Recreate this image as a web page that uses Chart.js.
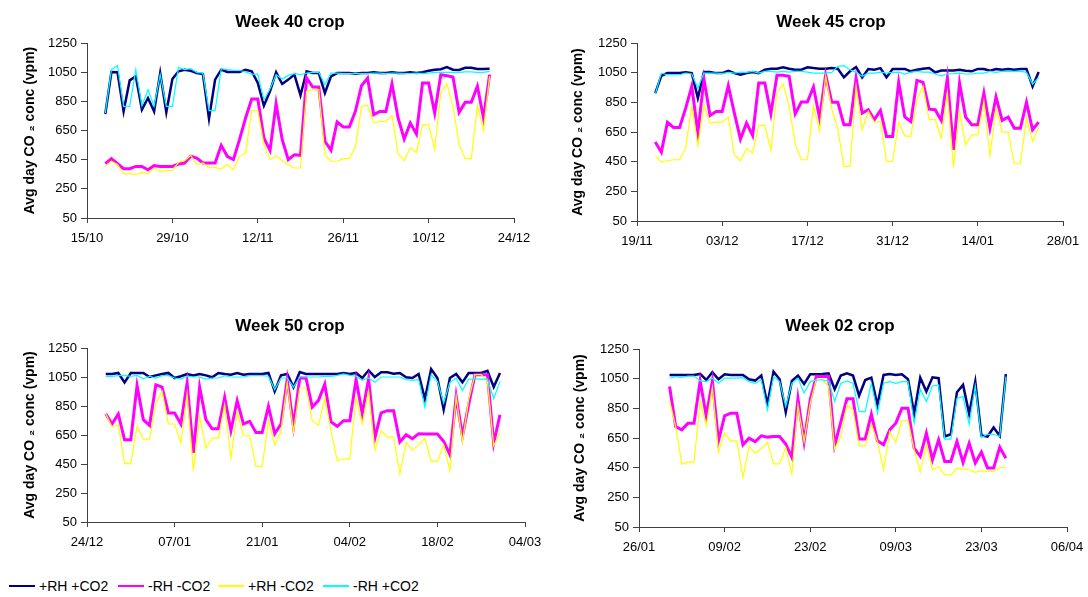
<!DOCTYPE html>
<html>
<head>
<meta charset="utf-8">
<title>CO2 by crop week</title>
<script src="https://cdn.jsdelivr.net/npm/chart.js@4.4.0/dist/chart.umd.min.js"></script>
<style>
  body { margin: 0; width: 1088px; height: 597px; overflow: hidden; background: #fff; position: relative;
         font-family: Arial, "Liberation Sans", sans-serif; }
  canvas { position: absolute; }
  .legend-item { position: absolute; top: 577px; height: 18px; display: flex; align-items: center; font-size: 14px; color: #000; white-space: nowrap; }
  .legend-swatch { width: 26px; margin-right: 4px; }
</style>
</head>
<body>
<canvas id="week40" width="580" height="262" style="left:0px;top:0px"></canvas>
<canvas id="week45" width="562" height="262" style="left:550px;top:0px"></canvas>
<canvas id="week50" width="580" height="262" style="left:0px;top:305px"></canvas>
<canvas id="week02" width="576" height="262" style="left:552px;top:305px"></canvas>
<div id="legend"></div>

<script>
// Series shared by all panels
const seriesNames = ['+RH +CO2', '-RH -CO2', '+RH -CO2', '-RH +CO2'];
const seriesColors = ['#000080', '#ff00ff', '#ffff00', '#00ffff'];
const seriesWidths = [2.5, 3, 1.2, 1.2];

const yTitle = 'Avg day CO \u2082 conc (vpm)';

// Week 40 crop - days counted from 15/10, data starts at day 3
const week40Ticks = ['15/10', '29/10', '12/11', '26/11', '10/12', '24/12'];
const week40Start = 3;
const week40PlusRhPlusCo2 = [
  763, 1051, 1049, 781, 994, 1021, 793, 873,
  781, 1044, 775, 1003, 1056, 1067, 1060, 1044,
  1037, 731, 999, 1067, 1051, 1051, 1051, 1067,
  1056, 976, 820, 919, 1049, 969, 999, 1033,
  891, 1056, 1044, 1044, 907, 1021, 1044, 1044,
  1044, 1040, 1044, 1044, 1049, 1044, 1044, 1049,
  1044, 1044, 1049, 1044, 1049, 1060, 1067, 1070,
  1085, 1067, 1065, 1080, 1080, 1072, 1072, 1074
];
const week40MinusRhMinusCo2 = [
  423, 457, 423, 388, 388, 404, 404, 381,
  409, 404, 404, 404, 420, 427, 473, 461,
  427, 427, 427, 548, 473, 450, 587, 736,
  866, 866, 599, 514, 834, 587, 450, 484,
  480, 1010, 948, 948, 576, 514, 708, 674,
  674, 781, 957, 1010, 759, 781, 781, 969,
  736, 592, 701, 626, 976, 976, 770, 1033,
  1026, 1017, 775, 843, 843, 953, 736, 1033
];
const week40PlusRhMinusCo2 = [
  404, 439, 416, 354, 354, 347, 363, 354,
  393, 370, 377, 377, 432, 443, 480, 416,
  427, 397, 397, 386, 416, 381, 473, 496,
  786, 786, 553, 450, 477, 443, 416, 393,
  393, 919, 930, 930, 484, 439, 439, 457,
  457, 537, 816, 823, 701, 713, 713, 752,
  491, 443, 530, 500, 690, 690, 519, 912,
  969, 816, 553, 457, 457, 820, 651, 1021
];
const week40MinusRhPlusCo2 = [
  770, 1067, 1095, 816, 816, 1067, 820, 930,
  816, 1033, 816, 816, 1083, 1067, 1074, 1049,
  1044, 786, 786, 1074, 1067, 1063, 1063, 1051,
  1037, 1037, 861, 935, 1033, 1003, 1028, 1040,
  1033, 1044, 1049, 1049, 965, 1044, 1044, 1040,
  1040, 1040, 1040, 1040, 1044, 1044, 1040, 1044,
  1044, 1040, 1040, 1044, 1040, 1044, 1049, 1049,
  1049, 1049, 1049, 1052, 1052, 1049, 1049, 1056
];

// Week 45 crop - days counted from 19/11
const week45Ticks = ['19/11', '03/12', '17/12', '31/12', '14/01', '28/01'];
const week45Start = 3;
const week45PlusRhPlusCo2 = [
  912, 1029, 1047, 1047, 1047, 1052, 1047, 879,
  1054, 1054, 1047, 1047, 1063, 1047, 1036, 1047,
  1054, 1047, 1070, 1077, 1077, 1086, 1077, 1070,
  1070, 1086, 1081, 1077, 1077, 1081, 1077, 1018,
  1059, 1088, 1018, 1075, 1070, 1081, 1018, 1075,
  1075, 1075, 1059, 1070, 1077, 1081, 1052, 1065,
  1065, 1065, 1070, 1063, 1059, 1075, 1075, 1063,
  1075, 1070, 1075, 1070, 1075, 1075, 957, 1054
];
const week45MinusRhMinusCo2 = [
  582, 514, 715, 681, 681, 811, 958, 643,
  1007, 762, 789, 789, 962, 777, 602, 710,
  627, 980, 980, 773, 1032, 1032, 1025, 773,
  852, 852, 953, 744, 1036, 850, 850, 699,
  699, 1014, 777, 800, 733, 795, 620, 620,
  985, 751, 721, 998, 985, 804, 800, 728,
  1014, 530, 980, 751, 699, 699, 913, 676,
  886, 728, 751, 676, 676, 850, 665, 717
];
const week45PlusRhMinusCo2 = [
  492, 447, 456, 463, 463, 541, 827, 557,
  834, 710, 717, 717, 751, 496, 456, 537,
  508, 694, 694, 526, 917, 973, 823, 568,
  463, 463, 827, 658, 1025, 807, 670, 418,
  418, 960, 665, 789, 715, 721, 451, 451,
  715, 624, 620, 868, 958, 733, 733, 609,
  913, 413, 789, 564, 631, 631, 856, 490,
  811, 649, 649, 436, 436, 744, 586, 681
];
const week45MinusRhPlusCo2 = [
  905, 1047, 1036, 1036, 1036, 1047, 1041, 946,
  1047, 1047, 1047, 1043, 1052, 1047, 1054, 1052,
  1059, 1047, 1059, 1059, 1054, 1059, 1054, 1059,
  1059, 1054, 1047, 1047, 1047, 1052, 1092, 1097,
  1070, 1052, 1025, 1047, 1047, 1054, 1047, 1052,
  1054, 1041, 1054, 1059, 1054, 1054, 1041, 1029,
  1041, 1043, 1047, 1041, 1041, 1047, 1047, 1059,
  1052, 1059, 1059, 1059, 1059, 1052, 973, 1018
];

// Week 50 crop - days counted from 24/12
const week50Ticks = ['24/12', '07/01', '21/01', '04/02', '18/02', '04/03'];
const week50Start = 3;
const week50PlusRhPlusCo2 = [
  1071, 1071, 1078, 1013, 1078, 1078, 1078, 1050,
  1061, 1071, 1078, 1043, 1055, 1071, 1061, 1071,
  1061, 1048, 1078, 1071, 1066, 1078, 1066, 1071,
  1071, 1071, 1078, 951, 1061, 1071, 980, 1084,
  1071, 1071, 1071, 1071, 1071, 1071, 1078, 1071,
  1078, 1043, 1096, 1050, 1082, 1082, 1073, 1078,
  1048, 1043, 1071, 898, 1105, 1043, 825, 1043,
  1071, 1013, 1078, 1078, 1078, 1093, 981, 1078
];
const week50MinusRhMinusCo2 = [
  797, 726, 795, 618, 618, 990, 756, 716,
  997, 981, 802, 802, 726, 1009, 526, 981,
  756, 693, 693, 910, 680, 887, 726, 744,
  668, 668, 848, 659, 726, 1032, 710, 1043,
  1043, 843, 889, 1000, 740, 710, 749, 749,
  1032, 797, 1036, 629, 802, 818, 818, 602,
  652, 624, 659, 657, 657, 657, 606, 514,
  917, 641, 860, 1066, 1066, 1066, 594, 790
];
const week50PlusRhMinusCo2 = [
  797, 705, 721, 452, 452, 710, 622, 622,
  871, 951, 726, 726, 594, 933, 404, 778,
  560, 629, 629, 859, 491, 813, 645, 645,
  434, 434, 749, 583, 675, 1009, 670, 974,
  974, 749, 716, 905, 675, 473, 486, 486,
  910, 726, 956, 548, 680, 636, 636, 381,
  599, 544, 583, 629, 468, 468, 583, 404,
  917, 602, 894, 1066, 1066, 1020, 576, 668
];
const week50MinusRhPlusCo2 = [
  1055, 1055, 1059, 1061, 1055, 1061, 1038, 1055,
  1043, 1059, 1059, 1043, 1036, 1055, 1050, 1050,
  1036, 1043, 1043, 1059, 1050, 1050, 1050, 1059,
  1059, 1059, 1055, 963, 1043, 1043, 980, 1050,
  1050, 1050, 1050, 1055, 1055, 1061, 1071, 1061,
  1055, 1027, 1043, 1013, 1050, 1050, 1050, 1050,
  1032, 1027, 1032, 841, 1066, 1020, 870, 1013,
  1043, 956, 1036, 1036, 1036, 1036, 900, 1020
];

// Week 02 crop - days counted from 26/01, data starts at day 5
const week02Ticks = ['26/01', '09/02', '23/02', '09/03', '23/03', '06/04'];
const week02Start = 5;
const week02PlusRhPlusCo2 = [
  1075, 1075, 1075, 1075, 1075, 1082, 1041, 1093,
  1046, 1080, 1075, 1075, 1075, 1046, 1037, 1071,
  878, 1097, 1046, 824, 1035, 1071, 1014, 1080,
  1080, 1082, 1086, 979, 1071, 1086, 1071, 935,
  1041, 1057, 873, 1075, 1082, 1075, 1080, 1046,
  813, 1057, 963, 1059, 1053, 660, 675, 958,
  1008, 813, 1030, 667, 660, 721, 664, 1080
];
const week02MinusRhMinusCo2 = [
  997, 727, 705, 750, 750, 1035, 799, 1035,
  631, 799, 817, 817, 604, 649, 626, 665,
  656, 660, 660, 609, 519, 914, 626, 907,
  1064, 1064, 1064, 600, 757, 914, 914, 644,
  644, 810, 631, 604, 705, 750, 851, 851,
  582, 526, 683, 503, 638, 492, 492, 626,
  485, 615, 481, 555, 447, 447, 588, 514
];
const week02PlusRhMinusCo2 = [
  900, 727, 474, 487, 487, 900, 732, 990,
  555, 683, 631, 631, 384, 593, 548, 577,
  622, 476, 476, 586, 407, 869, 626, 884,
  1046, 1046, 997, 575, 660, 873, 840, 597,
  597, 743, 626, 436, 694, 620, 768, 768,
  570, 420, 604, 436, 458, 402, 402, 447,
  440, 436, 418, 429, 425, 425, 451, 451
];
const week02MinusRhPlusCo2 = [
  1053, 1064, 1059, 1068, 1068, 1035, 1030, 1053,
  1019, 1053, 1053, 1053, 1057, 1030, 1019, 1041,
  840, 1064, 1030, 862, 1019, 1053, 952, 1030,
  1041, 1041, 1035, 896, 1019, 1035, 1019, 828,
  828, 1020, 817, 1019, 1030, 1019, 1030, 1030,
  750, 979, 896, 1001, 1008, 642, 642, 918,
  929, 743, 1001, 653, 675, 675, 660, 1064
];

Chart.defaults.font.family = 'Arial, "Liberation Sans", sans-serif';
Chart.defaults.color = '#000';

const axisColor = '#404040';

// Turn a daily series into {x, y} points
function toPoints(values, startDay) {
  return values.map((v, i) => ({ x: startDay + i, y: v }));
}

// Build one panel
function makePanel(id, title, ticks, startDay, series, box) {
  const ctx = document.getElementById(id).getContext('2d');
  const datasets = series.map((values, i) => ({
    label: seriesNames[i],
    data: toPoints(values, startDay),
    borderColor: seriesColors[i],
    backgroundColor: seriesColors[i],
    borderWidth: seriesWidths[i],
    pointRadius: 0,
    tension: 0,
    fill: false,
    order: series.length - i // later series on top, like the original
  }));

  return new Chart(ctx, {
    type: 'line',
    data: { datasets },
    options: {
      responsive: false,
      animation: false,
      devicePixelRatio: 1,
      layout: { padding: 0 },
      plugins: {
        legend: { display: false },
        tooltip: { enabled: false },
        title: {
          display: true,
          text: title,
          color: '#000',
          font: { size: 17, weight: 'bold' },
          padding: { top: box.titleTop, bottom: box.titleBottom }
        }
      },
      scales: {
        x: {
          type: 'linear',
          min: 0,
          max: (ticks.length - 1) * 14,
          grid: { display: true, drawOnChartArea: false, drawTicks: true, tickLength: 5, color: axisColor },
          border: { display: true, color: axisColor },
          ticks: {
            stepSize: 14,
            autoSkip: false,
            maxRotation: 0,
            padding: 8,
            font: { size: 13 },
            callback: (value) => ticks[Math.round(value / 14)]
          },
          afterFit: (scale) => { scale.height = box.xHeight; }
        },
        y: {
          min: 50,
          max: 1250,
          grid: { display: true, drawOnChartArea: false, drawTicks: true, tickLength: 6, color: axisColor },
          border: { display: true, color: axisColor },
          ticks: {
            stepSize: 200,
            padding: 4,
            font: { size: 13 },
            callback: (value) => String(value)
          },
          title: {
            display: true,
            text: yTitle,
            color: '#000',
            font: { size: 14, weight: 'bold' },
            padding: { top: box.yTitlePad, bottom: 0 }
          },
          afterFit: (scale) => { scale.width = 87; }
        },
        // empty spacer on the right so the title centres over the whole panel
        spacer: {
          type: 'linear',
          position: 'right',
          display: true,
          grid: { display: false },
          border: { display: false },
          ticks: { display: false },
          afterFit: (scale) => { scale.width = box.spacer; }
        }
      }
    }
  });
}

makePanel('week40', 'Week 40 crop', week40Ticks, week40Start,
  [week40PlusRhPlusCo2, week40MinusRhMinusCo2, week40PlusRhMinusCo2, week40MinusRhPlusCo2],
  { titleTop: 12, titleBottom: 10.6, xHeight: 44, spacer: 66, yTitlePad: 21.6 });

makePanel('week45', 'Week 45 crop', week45Ticks, week45Start,
  [week45PlusRhPlusCo2, week45MinusRhMinusCo2, week45PlusRhMinusCo2, week45MinusRhPlusCo2],
  { titleTop: 12, titleBottom: 10.6, xHeight: 41, spacer: 49, yTitlePad: 19.6 });

makePanel('week50', 'Week 50 crop', week50Ticks, week50Start,
  [week50PlusRhPlusCo2, week50MinusRhMinusCo2, week50PlusRhMinusCo2, week50MinusRhPlusCo2],
  { titleTop: 10.8, titleBottom: 11.8, xHeight: 45, spacer: 55, yTitlePad: 21.6 });

makePanel('week02', 'Week 02 crop', week02Ticks, week02Start,
  [week02PlusRhPlusCo2, week02MinusRhMinusCo2, week02PlusRhMinusCo2, week02MinusRhPlusCo2],
  { titleTop: 11.6, titleBottom: 12, xHeight: 40, spacer: 61, yTitlePad: 19.6 });

// Shared legend along the bottom
const legendLeft = [9, 118, 218, 323];
const legendLineWidths = [2, 2, 1.5, 1.5];
const legendEl = document.getElementById('legend');
seriesNames.forEach((name, i) => {
  const item = document.createElement('div');
  item.className = 'legend-item';
  item.style.left = legendLeft[i] + 'px';
  const swatch = document.createElement('div');
  swatch.className = 'legend-swatch';
  swatch.style.height = legendLineWidths[i] + 'px';
  swatch.style.background = seriesColors[i];
  const label = document.createElement('span');
  label.textContent = name;
  item.appendChild(swatch);
  item.appendChild(label);
  legendEl.appendChild(item);
});
</script>
</body>
</html>
